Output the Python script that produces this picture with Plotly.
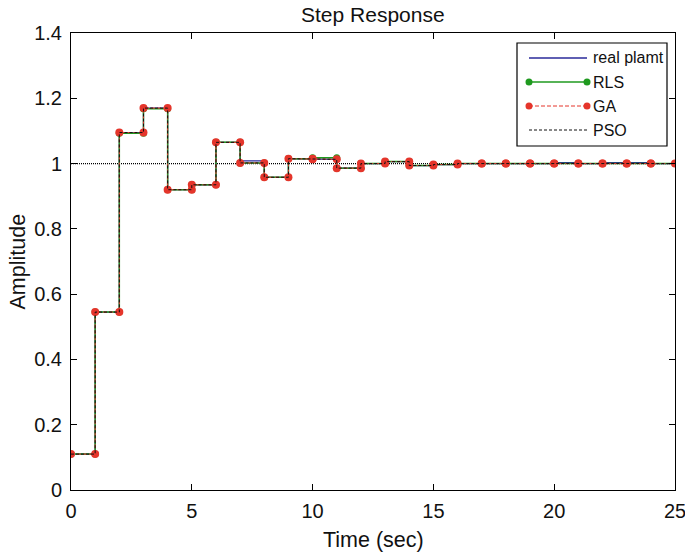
import plotly.graph_objects as go

# sample values (one per sampling interval k = 0..24)
real_plant = [0.11, 0.545, 1.095, 1.17, 0.92, 0.935, 1.065, 1.008, 0.958, 1.015,
              1.013, 0.986, 1.0, 1.006, 0.994, 0.997, 1.0, 1.0, 1.0, 1.0,
              1.003, 1.0, 1.003, 1.003, 1.0]
rls = [0.11, 0.545, 1.093, 1.168, 0.92, 0.935, 1.065, 1.002, 0.958, 1.015,
       1.018, 0.986, 1.0, 1.006, 0.994, 0.997, 1.0, 1.0, 1.0, 1.0,
       1.0, 1.0, 1.0, 1.0, 1.0]
ga = [0.11, 0.545, 1.095, 1.17, 0.92, 0.935, 1.065, 1.002, 0.958, 1.015,
      1.013, 0.986, 1.0, 1.006, 0.994, 0.997, 1.0, 1.0, 1.0, 1.0,
      1.0, 1.0, 1.0, 1.0, 1.0]
pso = [0.11, 0.545, 1.095, 1.17, 0.92, 0.935, 1.065, 1.002, 0.958, 1.015,
       1.013, 0.986, 1.0, 1.006, 0.994, 0.997, 1.0, 1.0, 1.0, 1.0,
       1.0, 1.0, 1.0, 1.0, 1.0]
steady_state = 1.0
x_range = [0, 25]
y_range = [0, 1.4]
x_ticks = [0, 5, 10, 15, 20, 25]
y_ticks = [0, 0.2, 0.4, 0.6, 0.8, 1.0, 1.2, 1.4]
legend_names = ["real plamt", "RLS", "GA", "PSO"]


def stairs(vals):
    xs, ys = [], []
    for k, v in enumerate(vals):
        xs += [k, k + 1]
        ys += [v, v]
    return xs, ys


BLUE = "#2a2a9a"
GREEN = "#1f9a1f"
RED = "#e5352b"
BLACK = "#111111"

fig = go.Figure()

fig.add_trace(go.Scatter(x=x_range, y=[steady_state, steady_state], mode="lines",
                         line=dict(color="black", width=1.2, dash="1px,1px"),
                         showlegend=False, hoverinfo="skip"))

x, y = stairs(real_plant)
fig.add_trace(go.Scatter(x=x, y=y, mode="lines", name=legend_names[0],
                         line=dict(color=BLUE, width=1.2)))
x, y = stairs(rls)
fig.add_trace(go.Scatter(x=x, y=y, mode="lines+markers", name=legend_names[1],
                         line=dict(color=GREEN, width=1.5),
                         marker=dict(color=GREEN, size=7)))
x, y = stairs(ga)
fig.add_trace(go.Scatter(x=x, y=y, mode="lines+markers", name=legend_names[2],
                         line=dict(color=RED, width=1, dash="4px,2px"),
                         marker=dict(color=RED, size=8)))
x, y = stairs(pso)
fig.add_trace(go.Scatter(x=x, y=y, mode="lines", name=legend_names[3],
                         line=dict(color=BLACK, width=1, dash="3px,2px")))

# custom legend (MATLAB style) in paper coordinates
L, T, W, H = 71, 33, 604, 457  # plot area in px


def px_x(p):
    return (p - L) / W


def px_y(p):
    return (T + H - p) / H


shapes = [dict(type="rect", xref="paper", yref="paper",
               x0=px_x(517), x1=px_x(667), y0=px_y(146), y1=px_y(43),
               line=dict(color="black", width=1.2), fillcolor="white", layer="above")]
annotations = []
rows = [58, 82, 106, 130]
styles = [(BLUE, "solid", None, 1.3), (GREEN, "solid", GREEN, 1.5),
          (RED, "4px,2px", RED, 1), (BLACK, "3px,2px", None, 1)]
for name, yy, (col, dash, mcol, w) in zip(legend_names, rows, styles):
    shapes.append(dict(type="line", xref="paper", yref="paper",
                       x0=px_x(529), x1=px_x(587), y0=px_y(yy), y1=px_y(yy),
                       line=dict(color=col, width=w, dash=dash), layer="above"))
    if mcol:
        for xx in (529, 587):
            shapes.append(dict(type="circle", xref="paper", yref="paper",
                               xsizemode="pixel", ysizemode="pixel",
                               xanchor=px_x(xx), yanchor=px_y(yy),
                               x0=-3.5, x1=3.5, y0=-3.5, y1=3.5,
                               fillcolor=mcol, line=dict(color=mcol, width=0),
                               layer="above"))
    annotations.append(dict(text=name, xref="paper", yref="paper",
                            x=px_x(591), y=px_y(yy), xanchor="left", yanchor="middle",
                            showarrow=False, font=dict(size=16, color="#111")))

# axis titles and title as positioned annotations
annotations.append(dict(text="Time (sec)", xref="paper", yref="paper",
                        x=0.5, y=px_y(540), xanchor="center", yanchor="middle",
                        showarrow=False, font=dict(size=21.5, color="#111")))
annotations.append(dict(text="Amplitude", xref="paper", yref="paper",
                        x=px_x(17), y=0.5, xanchor="center", yanchor="middle",
                        textangle=-90, showarrow=False, font=dict(size=21.5, color="#111")))
annotations.append(dict(text="Step Response", xref="paper", yref="paper",
                        x=0.5, y=px_y(15), xanchor="center", yanchor="middle",
                        showarrow=False, font=dict(size=21, color="#111")))

axis_common = dict(showline=True, linecolor="black", linewidth=1, mirror="ticks",
                   ticks="inside", ticklen=6, tickcolor="black", tickwidth=1,
                   showgrid=False, zeroline=False, automargin=False,
                   ticklabeloverflow="allow",
                   tickfont=dict(size=20, color="#111"))

fig.update_layout(
    width=685, height=555,
    margin=dict(l=L, r=685 - L - W, t=T, b=555 - T - H),
    paper_bgcolor="white", plot_bgcolor="white",
    font=dict(family="Liberation Sans, Arial, sans-serif", color="#111"),
    showlegend=False,
    xaxis=dict(range=x_range, tickvals=x_ticks, ticklabelstandoff=3, **axis_common),
    yaxis=dict(range=y_range, tickvals=y_ticks, ticklabelstandoff=4, **axis_common),
    shapes=shapes, annotations=annotations,
)

fig.write_html("out.html", config={"displayModeBar": False},
               post_script="document.body.style.margin='0';"
                           "document.body.style.overflow='hidden';")
